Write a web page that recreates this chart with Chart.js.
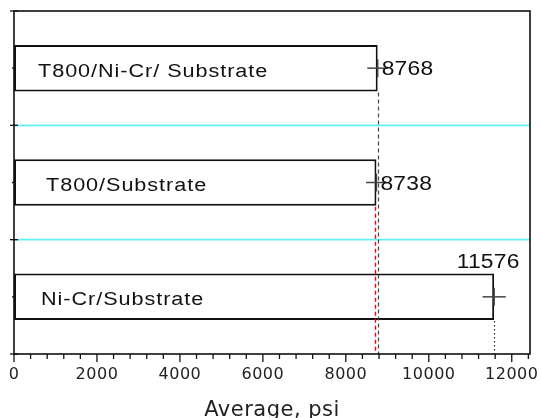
<!DOCTYPE html>
<html>
<head>
<meta charset="utf-8">
<script src="https://cdn.jsdelivr.net/npm/chart.js@4/dist/chart.umd.min.js"></script>
<style>
  html, body { margin: 0; padding: 0; background: #ffffff; }
  #wrap { width: 541px; height: 418px; }
</style>
</head>
<body>
<div id="wrap"><canvas id="c" width="541" height="418"></canvas></div>
<script>
// ---- data ----
const categories = ['T800/Ni-Cr/ Substrate', 'T800/Substrate', 'Ni-Cr/Substrate'];
const averages = [8768, 8738, 11576];
const stdDevs = [250, 250, 280];
const xTickValues = [0, 2000, 4000, 6000, 8000, 10000, 12000];
const xMinorStep = 400;
const xMax = 12440;
const refLineValues = [8768, 8705, 11576];
const valueLabels = ['8768', '8738', '11576'];
const axisTitle = 'Average, psi';

// ---- styles ----
const FONT = "'DejaVu Sans', sans-serif";
const TEXTFONT = "'Liberation Sans', Arial, sans-serif";
const refLineStyles = [
  { color: '#444444', dash: [4, 3], width: 1.2 },
  { color: '#ff0000', dash: [4, 3], width: 1.4 },
  { color: '#222222', dash: [1.5, 2.5], width: 1.2 }
];
const labelInsets = [24, 32, 27];
const valuePlacement = ['right', 'right', 'above'];

function stretchedText(ctx, text, x, y, sx, align) {
  ctx.save();
  ctx.translate(x, y);
  ctx.scale(sx, 1);
  ctx.textAlign = align;
  ctx.fillText(text, 0, 0);
  ctx.restore();
}

const overlay = {
  id: 'overlay',
  beforeLayout(chart) { chart.ctx.letterSpacing = '0.5px'; },
  beforeDraw(chart) { chart.ctx.letterSpacing = '0.5px'; },
  afterDatasetsDraw(chart) {
    const { ctx, chartArea: a, scales: { x, y } } = chart;
    const meta = chart.getDatasetMeta(0);
    ctx.save();
    ctx.letterSpacing = '0px';
    // cyan separators
    const n = categories.length;
    ctx.strokeStyle = '#5ff2f2';
    ctx.lineWidth = 1.6;
    const bounds = [];
    for (let i = 0; i <= n; i++) {
      let py;
      if (i === 0) py = a.top;
      else if (i === n) py = a.bottom;
      else py = (y.getPixelForValue(i - 1) + y.getPixelForValue(i)) / 2;
      bounds.push(py);
      if (i > 0 && i < n) {
        ctx.beginPath(); ctx.moveTo(a.left, py); ctx.lineTo(a.right, py); ctx.stroke();
      }
    }
    // reference lines
    refLineValues.forEach((v, i) => {
      const el = meta.data[i];
      const px = Math.round(x.getPixelForValue(v)) + 0.5;
      const top = el.y + el.height / 2 + 1;
      ctx.strokeStyle = refLineStyles[i].color;
      ctx.lineWidth = refLineStyles[i].width;
      ctx.setLineDash(refLineStyles[i].dash);
      ctx.beginPath(); ctx.moveTo(px, top); ctx.lineTo(px, a.bottom); ctx.stroke();
    });
    ctx.setLineDash([]);
    // error crosses
    ctx.strokeStyle = '#444444';
    ctx.lineWidth = 1.5;
    averages.forEach((v, i) => {
      const el = meta.data[i];
      const x0 = x.getPixelForValue(v - stdDevs[i]);
      const x1 = x.getPixelForValue(v + stdDevs[i]);
      const xc = x.getPixelForValue(v);
      ctx.beginPath(); ctx.moveTo(x0, el.y); ctx.lineTo(x1, el.y); ctx.stroke();
      ctx.beginPath(); ctx.moveTo(xc, el.y - 9); ctx.lineTo(xc, el.y + 9); ctx.stroke();
    });
    // frame
    ctx.strokeStyle = '#111111';
    ctx.lineWidth = 1.6;
    ctx.strokeRect(a.left, a.top, a.right - a.left, a.bottom - a.top);
    // x ticks
    ctx.lineWidth = 1.3;
    for (let v = 0; v <= xMax; v += xMinorStep) {
      const px = x.getPixelForValue(v);
      const len = (v % 2000 === 0) ? 8 : 5;
      ctx.beginPath(); ctx.moveTo(px, a.bottom); ctx.lineTo(px, a.bottom + len); ctx.stroke();
    }
    // y ticks
    bounds.forEach(py => {
      ctx.beginPath(); ctx.moveTo(a.left - 4, py); ctx.lineTo(a.left + 4, py); ctx.stroke();
    });
    categories.forEach((c, i) => {
      const py = y.getPixelForValue(i);
      ctx.beginPath(); ctx.moveTo(a.left - 2, py); ctx.lineTo(a.left, py); ctx.stroke();
    });
    // category labels inside bars
    ctx.fillStyle = '#111111';
    ctx.font = '18px ' + TEXTFONT;
    ctx.letterSpacing = '0.8px';
    ctx.textBaseline = 'alphabetic';
    categories.forEach((c, i) => {
      const el = meta.data[i];
      stretchedText(ctx, c, a.left + labelInsets[i], el.y + 8.5, 1.2, 'left');
    });
    // value labels
    ctx.font = '19.5px ' + TEXTFONT;
    ctx.letterSpacing = '0.2px';
    valueLabels.forEach((t, i) => {
      const el = meta.data[i];
      const px = x.getPixelForValue(averages[i]);
      if (valuePlacement[i] === 'right') {
        stretchedText(ctx, t, px + 4, el.y + 7, 1.17, 'left');
      } else {
        stretchedText(ctx, t, px - 6, el.y - el.height / 2 - 6, 1.17, 'center');
      }
    });
    ctx.restore();
  }
};

new Chart(document.getElementById('c'), {
  type: 'bar',
  data: {
    labels: categories,
    datasets: [{
      data: averages,
      backgroundColor: '#ffffff',
      borderColor: '#111111',
      borderWidth: 2,
      borderSkipped: false,
      barPercentage: 0.406,
      categoryPercentage: 1.0
    }]
  },
  options: {
    indexAxis: 'y',
    responsive: false,
    animation: false,
    devicePixelRatio: 1,
    layout: { padding: { left: 14, top: 11, right: 11, bottom: 0 } },
    plugins: { legend: { display: false }, tooltip: { enabled: false } },
    scales: {
      x: {
        type: 'linear',
        min: 0,
        max: xMax,
        position: 'bottom',
        grid: { display: false, drawTicks: false },
        border: { display: false },
        afterBuildTicks(scale) { scale.ticks = xTickValues.map(v => ({ value: v })); },
        afterFit(scale) { scale.height = 64; scale.paddingLeft = 0; scale.paddingRight = 0; },
        ticks: {
          color: '#222222',
          font: { family: FONT, size: 16 },
          padding: 11,
          maxRotation: 0,
          autoSkip: false,
          callback: (v) => String(v)
        },
        title: {
          display: true,
          text: axisTitle,
          color: '#222222',
          font: { family: FONT, size: 21, lineHeight: 0.72 },
          padding: { top: 0, bottom: 0 }
        }
      },
      y: {
        type: 'category',
        display: false,
        offset: true,
        grid: { display: false }
      }
    }
  },
  plugins: [overlay]
});
</script>
</body>
</html>
